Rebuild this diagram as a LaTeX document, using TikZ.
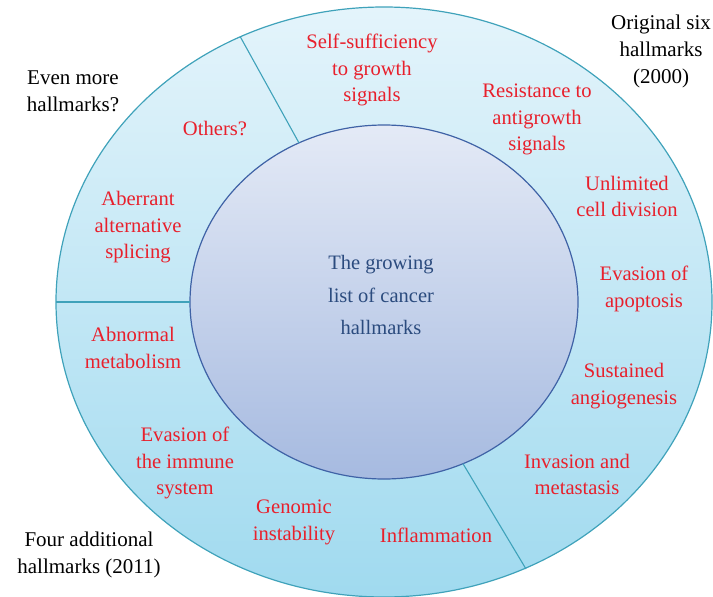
\documentclass[tikz,border=0pt]{standalone}
\usepackage{fontspec}
\setmainfont{Liberation Serif}
\definecolor{ringtop}{HTML}{E4F4FB}
\definecolor{ringbot}{HTML}{A0DAEF}
\definecolor{ringline}{HTML}{3FA2BA}
\definecolor{coretop}{HTML}{E4EAF6}
\definecolor{corebot}{HTML}{A6BAE0}
\definecolor{coreline}{HTML}{3F62A6}
\definecolor{coretext}{HTML}{2B4B7E}
\definecolor{hallred}{HTML}{E8202C}
\begin{document}
\begin{tikzpicture}[x=1pt,y=-1pt,
  hall/.style={text=hallred,align=center,font=\fontsize{20.6}{26.5}\selectfont,inner sep=0pt},
  era/.style={text=black,align=center,font=\fontsize{21}{27}\selectfont,inner sep=0pt},
  divider/.style={draw=ringline,line width=1.1pt}]
\useasboundingbox (0,0) rectangle (713,597);

% outer ring and inner core
\shade[top color=ringtop,bottom color=ringbot,draw=ringline,line width=1.2pt]
  (384,302) ellipse [x radius=328,y radius=295];
\shade[top color=coretop,bottom color=corebot,draw=coreline,line width=1.2pt]
  (384,302) ellipse [x radius=194,y radius=177];

% ring dividers
\coordinate (d1o) at (240.3,36.8);
\coordinate (d1i) at (299,142.9);
\coordinate (d2o) at (56,302);
\coordinate (d2i) at (190,302);
\coordinate (d3i) at (463,463.7);
\coordinate (d3o) at (526,569);
\draw[divider] (d1o) -- (d1i);
\draw[divider] (d2o) -- (d2i);
\draw[divider] (d3i) -- (d3o);

% centre label
\node[align=center,text=coretext,inner sep=0pt,font=\fontsize{20.5}{32.5}\selectfont] (core) at (381,295)
  {The growing\\list of cancer\\hallmarks};

% hallmarks
\node[hall] (h1) at (372,70) {Self-sufficiency\\to growth\\signals};
\node[hall] (h2) at (537,119.5) {Resistance to\\antigrowth\\signals};
\node[hall] (h3) at (627,196.5) {Unlimited\\cell division};
\node[hall] (h4) at (644,289) {Evasion of\\apoptosis};
\node[hall] (h5) at (624,386) {Sustained\\angiogenesis};
\node[hall] (h6) at (577,474.5) {Invasion and\\metastasis};
\node[hall] (h7) at (436,535) {Inflammation};
\node[hall] (h8) at (294,522.5) {Genomic\\instability};
\node[hall] (h9) at (185,463) {Evasion of\\the immune\\system};
\node[hall] (h10) at (133,348) {Abnormal\\metabolism};
\node[hall] (h11) at (138,227.5) {Aberrant\\alternative\\splicing};
\node[hall] (h12) at (215,128) {Others?};

% group captions
\node[era] (e1) at (73,91.5) {Even more\\hallmarks?};
\node[era] (e2) at (661,51.5) {Original six\\hallmarks\\(2000)};
\node[era] (e3) at (89,555) {Four additional\\hallmarks (2011)};
\end{tikzpicture}
\end{document}
